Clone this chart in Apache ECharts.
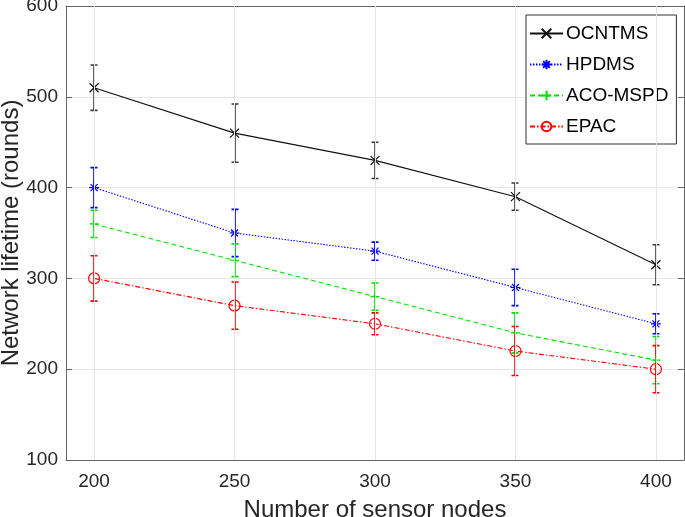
<!DOCTYPE html>
<html>
<head>
<meta charset="utf-8">
<script src="https://cdn.jsdelivr.net/npm/echarts@6/dist/echarts.min.js"></script>
<style>
html, body { margin: 0; padding: 0; background: #fff; }
#main { width: 685px; height: 517px; }
</style>
</head>
<body>
<div id="main"></div>
<script>
// 数据
var nodes = [200, 250, 300, 350, 400]; // 传感器节点数
var yTicks = [100, 200, 300, 400, 500, 600];

var ocntms = [510, 460, 430, 390, 315];
var ocntmsErr = [25, 32, 20, 15, 22];
var hpdms = [400, 350, 330, 290, 250];
var hpdmsErr = [22, 26, 10, 20, 11];
var acoMspd = [360, 320, 280, 240, 210];
var acoMspdErr = [15, 18, 15, 22, 26];
var epac = [300, 270, 250, 220, 200];
var epacErr = [25, 26, 12, 27, 26];

var font = '"Liberation Sans", Arial, Helvetica, sans-serif';

// 组装 [x, y] 和误差棒 [x, low, high]
function pairs(vals) {
    return nodes.map(function(x, i) { return [x, vals[i]]; });
}
function errs(vals, e) {
    return nodes.map(function(x, i) { return [x, vals[i] - e[i], vals[i] + e[i]]; });
}

// 误差棒
function errorBar(name, color, data) {
    return {
        name: name + ' err',
        type: 'custom',
        data: data,
        z: 3,
        silent: true,
        itemStyle: { color: color },
        renderItem: function(params, api) {
            var x = api.value(0);
            var lo = api.coord([x, api.value(1)]);
            var hi = api.coord([x, api.value(2)]);
            var cx = Math.round(lo[0]);
            var w = 3.5;
            var d = 'M' + cx + ',' + lo[1] + 'L' + cx + ',' + hi[1] +
                'M' + (cx - w) + ',' + lo[1] + 'L' + (cx + w) + ',' + lo[1] +
                'M' + (cx - w) + ',' + hi[1] + 'L' + (cx + w) + ',' + hi[1];
            return {
                type: 'path',
                shape: { pathData: d },
                style: { stroke: color, fill: null, lineWidth: 1.6, lineDash: null }
            };
        }
    };
}

function lineSeries(name, color, vals, type, symbol, size) {
    return {
        name: name,
        type: 'line',
        data: pairs(vals),
        z: 4,
        color: color,
        symbol: symbol,
        symbolSize: size,
        showAllSymbol: true,
        lineStyle: { color: color, width: 1.1, type: type },
        itemStyle: { color: 'rgba(255,255,255,0)', borderColor: color, borderWidth: 1.2 },
        emphasis: { disabled: true }
    };
}

var chart = echarts.init(document.getElementById('main'), null, { renderer: 'canvas' });

var option = {
    backgroundColor: '#fff',
    animation: false,
    textStyle: { fontFamily: font },
    grid: { left: 66, right: 1, top: 6, bottom: 57, containLabel: false, outerBoundsMode: 'none' },
    legend: {
        orient: 'vertical',
        left: 526,
        top: 15,
        width: 150,
        padding: [9, 8, 8, 3],
        itemGap: 12,
        itemWidth: 33,
        itemHeight: 12,
        borderColor: '#333',
        borderWidth: 1,
        backgroundColor: '#fff',
        textStyle: { fontSize: 19, color: '#000', fontFamily: font, padding: [0, 0, 0, -2] },
        data: ['OCNTMS', 'HPDMS', 'ACO-MSPD', 'EPAC']
    },
    xAxis: [{
        type: 'value',
        min: 190,
        max: 410,
        name: 'Number of sensor nodes',
        nameLocation: 'middle',
        nameGap: 38,
        nameMoveOverlap: false,
        nameTextStyle: { fontSize: 24, color: '#262626', fontFamily: font },
        axisLine: { show: true, lineStyle: { color: '#666', width: 1 } },
        axisTick: { show: true, inside: true, length: 6, customValues: nodes, lineStyle: { color: '#666' } },
        axisLabel: { customValues: nodes, fontSize: 19, color: '#262626', margin: 12 },
        splitLine: { show: false }
    }, {
        type: 'value',
        position: 'top',
        min: 190,
        max: 410,
        axisLine: { show: true, lineStyle: { color: '#666', width: 1 } },
        axisTick: { show: true, inside: true, length: 6, customValues: nodes, lineStyle: { color: '#666' } },
        axisLabel: { show: false },
        splitLine: { show: false }
    }],
    yAxis: [{
        type: 'value',
        min: 100,
        max: 600,
        interval: 100,
        name: 'Network lifetime (rounds)',
        nameLocation: 'middle',
        nameGap: 43,
        nameMoveOverlap: false,
        nameTextStyle: { fontSize: 24, color: '#262626', fontFamily: font },
        axisLine: { show: true, lineStyle: { color: '#666', width: 1 } },
        axisTick: { show: true, inside: true, length: 6, lineStyle: { color: '#666' } },
        axisLabel: { fontSize: 19, color: '#262626', margin: 8 },
        splitLine: { show: true, lineStyle: { color: '#e6e6e6', width: 1 } }
    }, {
        type: 'value',
        position: 'right',
        min: 100,
        max: 600,
        interval: 100,
        axisLine: { show: true, lineStyle: { color: '#666', width: 1 } },
        axisTick: { show: true, inside: true, length: 6, lineStyle: { color: '#666' } },
        axisLabel: { show: false },
        splitLine: { show: false }
    }],
    series: [
        // 竖向网格线
        {
            type: 'line',
            data: [],
            z: 1,
            silent: true,
            markLine: {
                silent: true,
                symbol: 'none',
                animation: false,
                label: { show: false },
                lineStyle: { color: '#e6e6e6', type: 'solid', width: 1 },
                data: nodes.map(function(v) { return { xAxis: v }; })
            }
        },
        errorBar('OCNTMS', '#3a3a3a', errs(ocntms, ocntmsErr)),
        lineSeries('OCNTMS', '#111111', ocntms, 'solid', 'path://M0,0L10,10M10,0L0,10', 9),
        errorBar('HPDMS', '#0000ff', errs(hpdms, hpdmsErr)),
        lineSeries('HPDMS', '#0000ff', hpdms, [1.5, 1.5], 'path://M5,0L5,10M0,5L10,5M1.5,1.5L8.5,8.5M8.5,1.5L1.5,8.5', 10),
        errorBar('ACO-MSPD', '#00e000', errs(acoMspd, acoMspdErr)),
        lineSeries('ACO-MSPD', '#00e000', acoMspd, [5, 3], 'path://M0,5L10,5M5,0L5,10', 9),
        errorBar('EPAC', '#ff0000', errs(epac, epacErr)),
        lineSeries('EPAC', '#ff0000', epac, [5, 2, 1.5, 2], 'circle', 11)
    ]
};

chart.setOption(option);
</script>
</body>
</html>
